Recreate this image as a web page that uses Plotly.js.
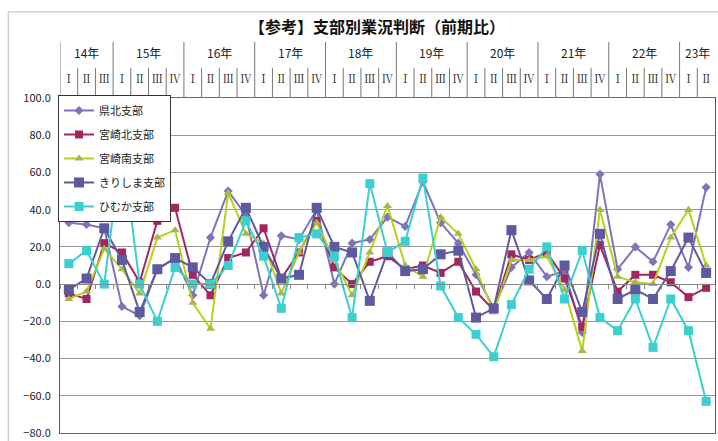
<!DOCTYPE html>
<html>
<head>
<meta charset="utf-8">
<script src="https://cdn.plot.ly/plotly-3.0.1.min.js"></script>
<style>html,body{margin:0;padding:0;background:#fff;}#chart{width:718px;height:441px;}</style>
</head>
<body>
<div id="chart"></div>
<script>
// ---- data ----
const years = ['14年','15年','16年','17年','18年','19年','20年','21年','22年','23年'];
const quartersPerYear = [3,4,4,4,4,4,4,4,4,2];
const quarterLabels = ['Ⅰ','Ⅱ','Ⅲ','Ⅳ'];
const seriesNames = ['県北支部','宮崎北支部','宮崎南支部','きりしま支部','ひむか支部'];

const kenhoku   = [33,32,30,-12,-17,8,14,-6,25,50,37,-6,26,24,40,0,22,24,36,31,55,33,22,5,-13,9,17,4,7,-26,59,8,20,12,32,9,52];
const miyakita  = [-5,-8,22,17,1,34,41,5,-6,14,17,30,3,17,34,9,0,12,15,8,10,6,12,-4,-14,16,13,17,3,-23,21,-4,5,5,1,-7,-2];
const miyaminami= [-8,-4,19,8,-5,25,29,-10,-24,49,27,22,-5,17,33,13,-6,17,42,10,4,36,27,8,-15,13,13,15,-3,-36,40,4,1,0,25,40,10];
const kirishima = [-3,3,30,13,-15,8,14,9,0,23,41,20,3,5,41,20,17,-9,17,7,8,16,18,-18,-13,29,2,-8,10,-15,27,-8,-3,-8,7,25,6];
const himuka    = [11,18,0,75,0,-20,9,0,0,10,34,15,-13,25,27,15,-18,54,17,23,57,-1,-18,-27,-39,-11,8,20,-8,18,-18,-25,-8,-34,-8,-25,-63];

// categories built from years / quarters
const categories = [];
const tickText = [];
years.forEach((y,yi)=>{
  for(let q=0;q<quartersPerYear[yi];q++){
    categories.push(y+quarterLabels[q]);
    tickText.push(quarterLabels[q]);
  }
});
const N = categories.length;

const styles = [
  {symbol:'diamond', size:7, color:'#8073B8', lc:'#8073B8'},
  {symbol:'square', size:8, color:'#A3265F', lc:'#A3265F'},
  {symbol:'triangle-up', size:8, color:'#A6B650', lc:'#B9D01C'},
  {symbol:'square', size:10, color:'#5D5A9F', lc:'#5D5A9F'},
  {symbol:'square', size:9, color:'#3CCFCF', lc:'#3CCFCF'}
];
const allSeries = [kenhoku, miyakita, miyaminami, kirishima, himuka];

const traces = allSeries.map((vals,i)=>({
  type:'scatter', mode:'lines+markers', x:categories, y:vals, name:seriesNames[i],
  legendgroup:'g'+i,
  line:{color:styles[i].lc, width:2},
  marker:{symbol:styles[i].symbol, size:styles[i].size, color:styles[i].color, line:{width:0}},
  xaxis:'x', yaxis:'y'
}));

// header separators and year labels
const shapes = [];
const annotations = [];
let start = 0;
shapes.push({type:'line', xref:'x', yref:'paper', x0:-0.5, x1:-0.5, y0:1, y1:1.167, line:{color:'#777', width:1}});
years.forEach((y,yi)=>{
  const n = quartersPerYear[yi];
  for(let q=1;q<n;q++){
    shapes.push({type:'line', xref:'x', yref:'paper', x0:start+q-0.5, x1:start+q-0.5, y0:1, y1:1.09, line:{color:'#777', width:1}});
  }
  if (yi < years.length-1) {
    shapes.push({type:'line', xref:'x', yref:'paper', x0:start+n-0.5, x1:start+n-0.5, y0:1, y1:1.167, line:{color:'#777', width:1}});
  }
  annotations.push({xref:'x', yref:'paper', x:start+(n-1)/2, y:1.137, text:y, showarrow:false,
    font:{family:'Noto Sans CJK JP', size:12, color:'#222'}, xanchor:'center', yanchor:'middle'});
  start += n;
});
// outer frame
shapes.push({type:'rect', xref:'paper', yref:'paper', x0:-0.079, x1:1.2, y0:-0.3, y1:1.257, line:{color:'#bbb', width:1}, layer:'below'});

// boundary ticks on zero line
const boundaries = [];
for(let i=0;i<=N;i++) boundaries.push(i-0.5);

const layout = {
  width:718, height:441,
  margin:{l:60, r:3, t:98, b:8},
  paper_bgcolor:'#fff', plot_bgcolor:'#fff',
  title:{text:'<b>【参考】支部別業況判断（前期比）</b>', x:0.525, xanchor:'center', y:0.939, yanchor:'middle',
    font:{family:'Noto Sans CJK JP', size:16, color:'#111'}},
  font:{family:'Noto Sans CJK JP', color:'#222'},
  xaxis:{type:'category', range:[-0.5, N-0.5], side:'top', tickmode:'array', tickvals:categories, ticktext:tickText,
    showgrid:false, zeroline:false, showline:true, linecolor:'#666', mirror:true, ticks:'',
    tickfont:{family:'Noto Serif CJK JP, Noto Sans CJK JP', size:11, color:'#222'}, ticklabelstandoff:10},
  xaxis2:{overlaying:'x', anchor:'free', position:80/180, range:[-0.5, N-0.5], showgrid:false, zeroline:false,
    showline:true, linecolor:'#888', linewidth:1, tickmode:'array', tickvals:boundaries, ticks:'outside', ticklen:4,
    tickcolor:'#888', showticklabels:false},
  yaxis:{range:[-80,100], tickmode:'linear', tick0:-80, dtick:20, tickformat:'.1f', showgrid:true, gridcolor:'#999',
    gridwidth:1, zeroline:false, showline:true, linecolor:'#555', mirror:true, ticks:'',
    tickfont:{family:'Noto Sans CJK JP', size:11, color:'#222'}, ticklabelstandoff:6},
  showlegend:true,
  legend:{x:-0.003, xanchor:'left', y:1.009, yanchor:'top', bgcolor:'#fff', bordercolor:'#333', borderwidth:1,
    traceorder:'grouped', tracegroupgap:5, itemwidth:30, font:{family:'Noto Sans CJK JP', size:11, color:'#222'}},
  shapes:shapes, annotations:annotations
};

// invisible trace to activate xaxis2
traces.push({type:'scatter', x:[-0.5], y:[null], xaxis:'x2', yaxis:'y', showlegend:false, hoverinfo:'skip', mode:'lines'});

Plotly.newPlot('chart', traces, layout, {displayModeBar:false, staticPlot:true});
</script>
</body>
</html>
